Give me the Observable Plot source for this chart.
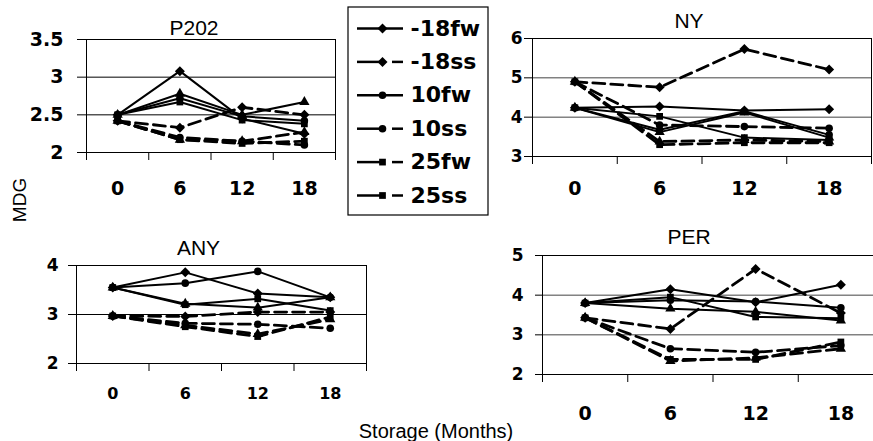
<!DOCTYPE html>
<html><head><meta charset="utf-8">
<script src="https://cdn.jsdelivr.net/npm/d3@7"></script>
<script src="https://cdn.jsdelivr.net/npm/@observablehq/plot@0.6"></script>
<style>
html,body{margin:0;padding:0;background:#fff;overflow:hidden;}
#root{position:relative;width:873px;height:441px;overflow:hidden;background:#fff;}
.panel{position:absolute;}
.lab{position:absolute;font-family:"Liberation Sans",Arial,sans-serif;color:#000;white-space:nowrap;}
</style></head><body><div id="root"></div>
<script>
// ---- data ----
const months = [0, 6, 12, 18];
const seriesNames = ["-18fw", "-18ss", "10fw", "10ss", "25fw", "25ss", "4fw", "4ss"];
const legendNames = ["-18fw", "-18ss", "10fw", "10ss", "25fw", "25ss"];

const p202Values = [
  [2.50, 3.08, 2.45, 2.25],
  [2.42, 2.33, 2.60, 2.50],
  [2.50, 2.72, 2.48, 2.42],
  [2.42, 2.20, 2.15, 2.10],
  [2.50, 2.67, 2.43, 2.38],
  [2.42, 2.17, 2.12, 2.15],
  [2.50, 2.78, 2.50, 2.67],
  [2.42, 2.17, 2.15, 2.27]
];
const nyValues = [
  [4.24, 4.27, 4.17, 4.20],
  [4.90, 4.76, 5.73, 5.21],
  [4.24, 3.68, 4.15, 3.55],
  [4.90, 3.80, 3.76, 3.72],
  [4.24, 4.02, 3.48, 3.42],
  [4.90, 3.30, 3.35, 3.35],
  [4.24, 3.62, 4.12, 3.48],
  [4.90, 3.38, 3.42, 3.38]
];
const anyValues = [
  [3.55, 3.86, 3.43, 3.35],
  [2.97, 2.96, 3.05, 3.05],
  [3.55, 3.64, 3.88, 3.35],
  [2.97, 2.82, 2.80, 2.72],
  [3.55, 3.20, 3.32, 3.08],
  [2.97, 2.75, 2.55, 2.95],
  [3.55, 3.22, 3.14, 3.35],
  [2.97, 2.78, 2.60, 2.90]
];
const perValues = [
  [3.80, 4.15, 3.82, 4.26],
  [3.43, 3.15, 4.66, 3.55],
  [3.80, 3.87, 3.84, 3.68],
  [3.43, 2.65, 2.56, 2.73],
  [3.80, 3.95, 3.45, 3.42],
  [3.43, 2.38, 2.38, 2.82],
  [3.80, 3.66, 3.58, 3.36],
  [3.43, 2.34, 2.42, 2.65]
];

// ---- helpers ----
const squareDiamond = {
  draw(ctx, size) {
    const r = Math.sqrt(size / 2) * 1.05;
    ctx.moveTo(0, -r); ctx.lineTo(r, 0); ctx.lineTo(0, r); ctx.lineTo(-r, 0); ctx.closePath();
  }
};
const symbolOf = s => s.startsWith("-18") ? squareDiamond : s.startsWith("10") ? "circle" : s.startsWith("25") ? "square" : "triangle";
const isDashed = s => s.endsWith("ss");
const BOLD = "DejaVu Sans, Verdana, sans-serif";
const SANS = "Liberation Sans, Arial, sans-serif";
const root = document.getElementById("root");

function place(node, left, top, width) {
  const div = document.createElement("div");
  div.className = "panel";
  div.style.left = left + "px";
  div.style.top = top + "px";
  div.style.width = width + "px";
  div.appendChild(node);
  root.appendChild(div);
}

function panel(c) {
  const rows = [];
  seriesNames.forEach((s, i) => c.values[i].forEach((v, j) =>
    rows.push({series: s, month: months[j], value: v, symbol: symbolOf(s)})));
  const solid = rows.filter(d => !isDashed(d.series));
  const dashed = rows.filter(d => isDashed(d.series));
  const plot = Plot.plot({
    width: c.width, height: c.height,
    marginLeft: c.ml, marginRight: c.mr, marginTop: c.mt, marginBottom: c.mb,
    x: {domain: [-3, 21], label: null},
    y: {domain: c.yDomain, label: null},
    style: {background: "transparent", overflow: "visible", maxWidth: "none", fontFamily: SANS},
    marks: [
      Plot.gridY({ticks: c.grid, stroke: c.gridColor, strokeOpacity: 1}),
      Plot.frame({stroke: "black"}),
      Plot.axisY({ticks: c.yTicks, tickSize: c.yts, tickPadding: c.ytp, tickFormat: d => String(d),
        fontSize: c.yfs, fontWeight: "bold", fontFamily: BOLD, stroke: "black", label: null}),
      Plot.axisX({ticks: [-3, 3, 9, 15, 21], tickSize: 8, tickFormat: () => "", stroke: "black", label: null}),
      Plot.axisX({ticks: months, tickSize: 0, tickPadding: c.xtp, tickFormat: d => String(d),
        fontSize: c.xfs, fontWeight: "bold", fontFamily: BOLD, label: null}),
      Plot.line(solid, {x: "month", y: "value", z: "series", stroke: "black", strokeWidth: 2}),
      Plot.line(dashed, {x: "month", y: "value", z: "series", stroke: "black", strokeWidth: 2.8, strokeDasharray: "12,6"}),
      Plot.dot(rows, {x: "month", y: "value", symbol: "symbol", fill: "black", r: 3.8}),
      Plot.text([c.title], {frameAnchor: "top", dx: c.tdx, dy: c.tdy, text: d => d, lineAnchor: "middle",
        fontSize: 21, fontFamily: SANS, fill: "black"})
    ]
  });
  place(plot, c.left, c.top, c.width);
}

panel({title: "P202", values: p202Values, left: 0, top: 0, width: 345, height: 205,
  ml: 86, mr: 10, mt: 39, mb: 53, yDomain: [2, 3.5], yTicks: [2, 2.5, 3, 3.5], grid: [2.5, 3],
  gridColor: "black", yts: 9, ytp: 14, yfs: 19, xtp: 29, xfs: 19, tdx: -17, tdy: -11});

panel({title: "NY", values: nyValues, left: 480, top: 0, width: 393, height: 205,
  ml: 52, mr: 2, mt: 38, mb: 49, yDomain: [3, 6], yTicks: [3, 4, 5, 6], grid: [4, 5],
  gridColor: "#444", yts: 8, ytp: 2, yfs: 17, xtp: 25, xfs: 19, tdx: -13, tdy: -17});

panel({title: "ANY", values: anyValues, left: 0, top: 220, width: 400, height: 200,
  ml: 76, mr: 34, mt: 45, mb: 57, yDomain: [2, 4], yTicks: [2, 3, 4], grid: [3],
  gridColor: "black", yts: 8, ytp: 10, yfs: 17, xtp: 24, xfs: 16, tdx: -23, tdy: -17});

panel({title: "PER", values: perValues, left: 480, top: 220, width: 410, height: 221,
  ml: 62, mr: 7, mt: 35, mb: 67, yDomain: [2, 5], yTicks: [2, 3, 4, 5], grid: [3, 4],
  gridColor: "#444", yts: 7, ytp: 12, yfs: 17, xtp: 32, xfs: 19, tdx: -24, tdy: -18});

// ---- legend ----
const legendRows = legendNames.map((n, i) => ({name: n, y: 28 + 33.4 * i, symbol: symbolOf(n),
  dashed: n !== "-18fw" && n !== "10fw"}));
const legend = Plot.plot({
  width: 160, height: 220, margin: 0,
  x: {domain: [0, 160], range: [0, 160], axis: null},
  y: {domain: [0, 220], range: [0, 220], axis: null},
  style: {background: "transparent", overflow: "visible", maxWidth: "none"},
  marks: [
    Plot.rect([0], {x1: 8, x2: 148, y1: 7, y2: 215, fill: "white", stroke: "black", strokeWidth: 1.2}),
    Plot.ruleY(legendRows, {y: "y", x1: 17, x2: d => d.dashed ? 42 : 63, stroke: "black", strokeWidth: 2.5}),
    Plot.ruleY(legendRows.filter(d => d.dashed), {y: "y", x1: 52, x2: 63, stroke: "black", strokeWidth: 2.5}),
    Plot.dot(legendRows, {x: 42, y: "y", symbol: "symbol", fill: "black", r: 3.8}),
    Plot.text(legendRows, {x: 70, y: "y", text: "name", textAnchor: "start", fontSize: 22,
      fontWeight: "bold", fontFamily: BOLD, fill: "black"})
  ]
});
place(legend, 340, 0, 160);

// ---- axis titles ----
const mdg = document.createElement("div");
mdg.className = "lab";
mdg.textContent = "MDG";
mdg.style.cssText += "left:20px;top:200px;font-size:19px;transform:translate(-50%,-50%) rotate(-90deg);";
root.appendChild(mdg);

const st = document.createElement("div");
st.className = "lab";
st.textContent = "Storage (Months)";
st.style.cssText += "left:436px;top:431px;font-size:20px;transform:translate(-50%,-50%);";
root.appendChild(st);
</script></body></html>
